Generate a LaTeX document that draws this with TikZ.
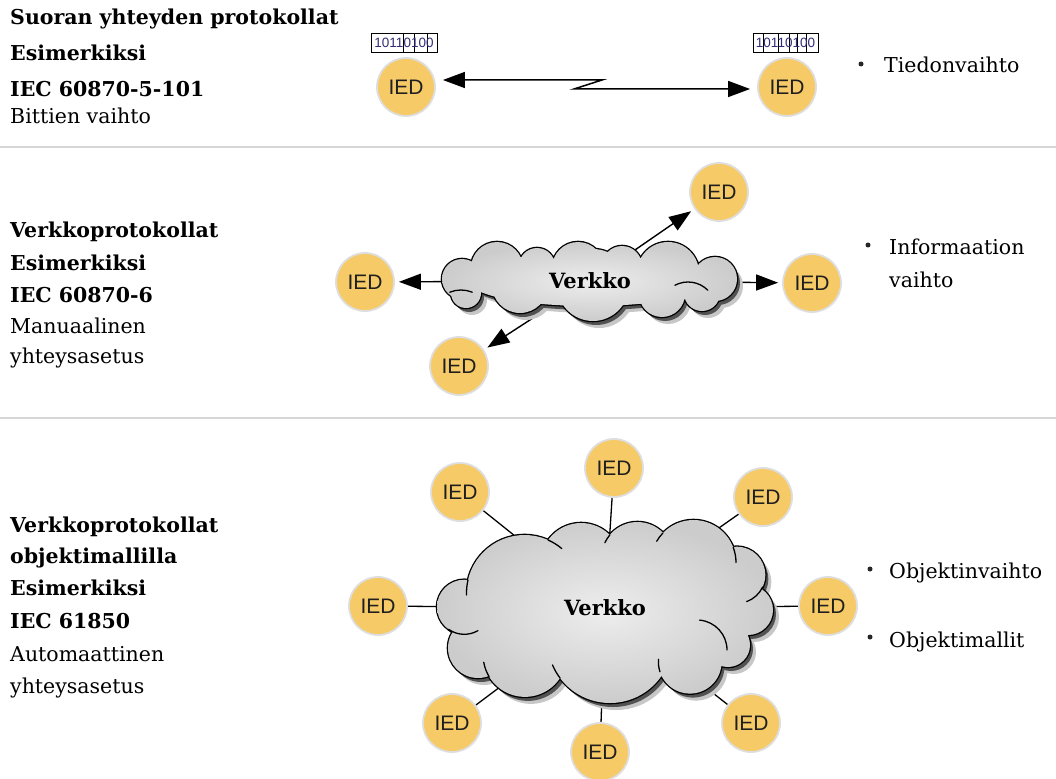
\documentclass[tikz,border=0pt]{standalone}
\usepackage{fontspec}
\setmainfont{DejaVu Serif}
\newfontfamily\iedfont{Liberation Sans}
\usetikzlibrary{arrows.meta}
\pgfdeclarelayer{background}
\pgfsetlayers{background,main}
\definecolor{iedfill}{RGB}{246,202,102}
\definecolor{iedring}{RGB}{222,222,222}
\definecolor{bitink}{RGB}{50,45,120}
\definecolor{sepline}{RGB}{214,214,214}
\tikzset{
  ied/.style={circle, fill=iedfill, draw=iedring, line width=1.8pt, minimum size=58pt,
    inner sep=0pt, font=\iedfont\fontsize{21}{21}\selectfont, text=black!88},
  headline/.style={anchor=base west, inner sep=0pt, font=\bfseries\fontsize{20.5}{24}\selectfont},
  plainline/.style={anchor=base west, inner sep=0pt, font=\fontsize{20.5}{24}\selectfont},
  bulletdot/.style={circle, fill=black!85, minimum size=5pt, inner sep=0pt},
  cloudlabel/.style={font=\bfseries\fontsize{21}{24}\selectfont, inner sep=2pt},
  cloudoutline/.style={draw=black, line width=2.6pt},
  cloudshade/.style={inner color=black!7, outer color=black!20},
  crease/.style={line width=1.3pt, line cap=round},
  link/.style={line width=1.3pt},
  netarrow/.style={line width=1.4pt, -{Triangle[length=22pt,width=16pt]}, shorten >=4pt},
  bitbox/.style={draw=black, line width=0.8pt},
  bits/.style={font=\iedfont\fontsize{13.5}{13.5}\selectfont, text=bitink, inner sep=0pt},
  separator/.style={draw=sepline, line width=1.3pt},
}
% puffs of the small network cloud
\newcommand\cloudsmall{(462,279) circle[radius=20pt] (466,293) circle[radius=15pt]
  (497,268) circle[radius=26pt] (537,266) circle[radius=18pt] (578,268) circle[radius=26pt]
  (622,266) circle[radius=20pt] (668,273) circle[radius=31pt] (715,279) circle[radius=22pt]
  (702,293) circle[radius=18pt] (662,294) circle[radius=23pt] (593,285) circle[radius=36pt]
  (520,285) circle[radius=28pt]
  (590,282) ellipse[x radius=120pt, y radius=24pt]}
% puffs of the large network cloud
\newcommand\cloudlarge{(464.3,607) circle[radius=27.3pt] (524.5,593) circle[radius=58pt]
  (581.1,563.5) circle[radius=40.5pt] (637.4,557.9) circle[radius=35.9pt]
  (693.5,562.5) circle[radius=42.5pt] (737,575) circle[radius=28.3pt]
  (748,610) circle[radius=25pt] (728,645) circle[radius=22pt] (690,662) circle[radius=31.6pt]
  (610,640.5) circle[radius=62.5pt] (525,655) circle[radius=41.9pt] (478,648) circle[radius=30pt]
  (605,610) ellipse[x radius=125pt, y radius=55pt]}
% shadow, outline and shaded body of a cloud made of puffs
\newcommand\paintcloud[1]{%
  \fill[black!22, shift={(6,7)}] #1;
  \fill[black!68, shift={(3,4)}] #1;
  \path[cloudoutline] #1;
  \shade[cloudshade] #1;
}
\begin{document}
\begin{tikzpicture}[x=1pt,y=-1pt]
\useasboundingbox (0,0) rectangle (1056,778);
\begin{pgfonlayer}{background}
  \fill[white] (0,0) rectangle (1056,778);
  \draw[separator] (0,147) -- (1056,147);
  \draw[separator] (0,418) -- (1056,418);
\end{pgfonlayer}

% ---- direct link row
\node[headline] (t1) at (10,25) {Suoran yhteyden protokollat};
\node[headline] (t2) at (10,61) {Esimerkiksi};
\node[headline] (t3) at (10,97) {IEC 60870-5-101};
\node[plainline] (t4) at (10,124) {Bittien vaihto};

\node[ied] (dA) at (406,87) {IED};
\node[ied] (dB) at (787,87) {IED};

\draw[bitbox] (371,33) rectangle (437,52);
\foreach \x in {403,414,427} \draw[bitbox] (\x,33) -- (\x,52);
\node[bits] (bitsA) at (404,43) {10110100};
\draw[bitbox] (753,33) rectangle (818,52);
\foreach \x in {763,778,789,797,806} \draw[bitbox] (\x,33) -- (\x,52);
\node[bits] (bitsB) at (785.5,43) {10110100};

\coordinate (zigA) at (602,80);
\coordinate (zigB) at (574,89);
\draw[line width=1.5pt, {Triangle[length=22pt,width=16pt]}-{Triangle[length=22pt,width=16pt]}]
  ([xshift=7pt,yshift=7pt]dA.east) -- (zigA) -- (zigB) -- ([xshift=-7pt,yshift=-2pt]dB.west);

\node[bulletdot] (u1) at (861,64) {};
\node[plainline] (r1) at (884,73) {Tiedonvaihto};

% ---- network row
\node[headline] (v1) at (10,237) {Verkkoprotokollat};
\node[headline] (v2) at (10,270) {Esimerkiksi};
\node[headline] (v3) at (10,302) {IEC 60870-6};
\node[plainline] (v4) at (10,333) {Manuaalinen};
\node[plainline] (v5) at (10,363) {yhteysasetus};

\node[ied] (m1) at (719,192) {IED};
\node[ied] (m2) at (365,282) {IED};
\node[ied] (m3) at (812,283) {IED};
\node[ied] (m4) at (459,366) {IED};

\paintcloud{\cloudsmall}
\draw[crease] (461,320) ++(112:30pt) arc[start angle=112, end angle=68, radius=30pt];
\draw[crease] (688,310) ++(118:28pt) arc[start angle=118, end angle=45, radius=28pt];
\node[cloudlabel] (cM) at (590,281) {Verkko};

\node[bulletdot] (u2) at (868,245) {};
\node[plainline] (r2) at (889,254) {Informaation};
\node[plainline] (r3) at (889,287) {vaihto};

% ---- object model row
\node[headline] (w1) at (10,532) {Verkkoprotokollat};
\node[headline] (w2) at (10,563) {objektimallilla};
\node[headline] (w3) at (10,595) {Esimerkiksi};
\node[headline] (w4) at (10,628) {IEC 61850};
\node[plainline] (w5) at (10,661) {Automaattinen};
\node[plainline] (w6) at (10,693) {yhteysasetus};

\node[ied] (b1) at (460,492) {IED};
\node[ied] (b2) at (614,468) {IED};
\node[ied] (b3) at (763,497) {IED};
\node[ied] (b4) at (378,606) {IED};
\node[ied] (b5) at (828,606) {IED};
\node[ied] (b6) at (452,723) {IED};
\node[ied] (b7) at (600,752) {IED};
\node[ied] (b8) at (751,723) {IED};

\paintcloud{\cloudlarge}
\draw[crease] (524.5,593) ++(66:58pt) arc[start angle=66, end angle=50, radius=58pt];
\draw[crease] (524.5,593) ++(167:58pt) arc[start angle=167, end angle=182, radius=58pt];
\draw[crease] (464.3,607) ++(235:27.3pt) arc[start angle=235, end angle=300, radius=27.3pt];
\draw[crease] (525,655) ++(211:41.9pt) arc[start angle=211, end angle=190, radius=41.9pt];
\draw[crease] (610,640.5) ++(217:62.5pt) arc[start angle=217, end angle=203, radius=62.5pt];
\draw[crease] (690,662) ++(198:31.6pt) arc[start angle=198, end angle=175, radius=31.6pt];
\draw[crease] (697,650) ++(85:30pt) arc[start angle=85, end angle=0, radius=30pt];
\draw[crease] (693.5,562.5) ++(21:42.5pt) arc[start angle=21, end angle=0, radius=42.5pt];
\draw[crease] (737,575) ++(290:28.3pt) arc[start angle=290, end angle=335, radius=28.3pt];
\draw[crease] (637.4,557.9) ++(140:35.9pt) arc[start angle=140, end angle=155, radius=35.9pt];
\draw[crease] (693.5,562.5) ++(136:42.5pt) arc[start angle=136, end angle=150, radius=42.5pt];
\node[cloudlabel] (cB) at (605,608) {Verkko};

\node[bulletdot] (u3) at (870,569) {};
\node[plainline] (r4) at (889,578) {Objektinvaihto};
\node[bulletdot] (u4) at (870,637) {};
\node[plainline] (r5) at (889,647) {Objektimallit};

% ---- connectors, kept under the clouds
\begin{pgfonlayer}{background}
  \foreach \n in {m1,m2,m3,m4} \draw[netarrow] (cM) -- (\n);
  \foreach \n in {b1,b2,b3,b4,b5,b6,b7,b8} \draw[link] (cB) -- (\n);
\end{pgfonlayer}
\end{tikzpicture}
\end{document}
